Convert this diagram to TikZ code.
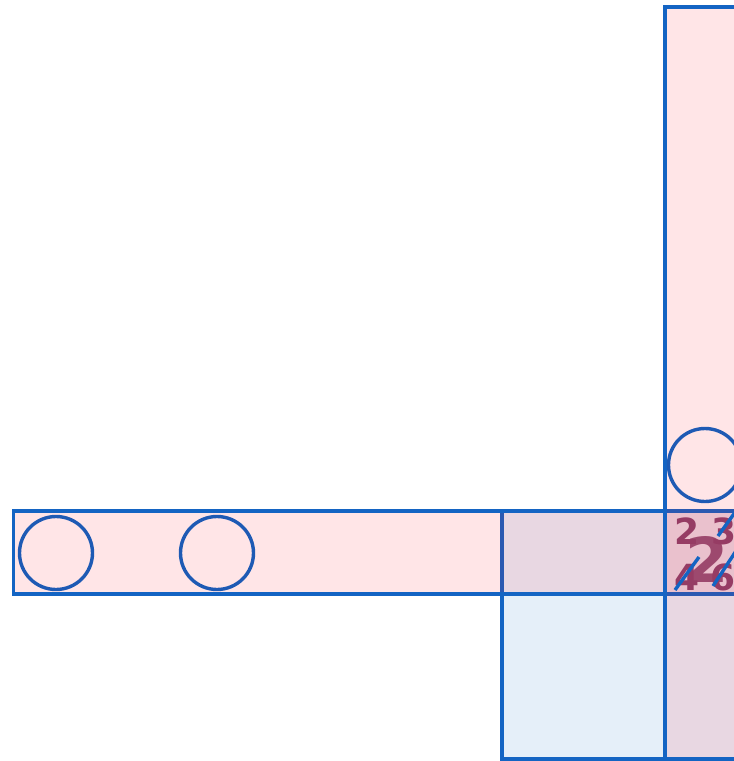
\documentclass[tikz,border=0pt]{standalone}
\usepackage{fontspec}
\setmainfont{DejaVu Sans}
\definecolor{edge}{RGB}{20,100,195}
\definecolor{ring}{RGB}{30,90,180}
\definecolor{pinkf}{RGB}{255,0,20}
\definecolor{bluef}{RGB}{0,100,200}
\definecolor{digit}{RGB}{150,60,100}
\begin{document}
\begin{tikzpicture}[x=1pt,y=-1pt,
  box/.style={draw=edge,line width=3.4pt},
  pinkbox/.style={box,fill=pinkf,fill opacity=0.1},
  bluebox/.style={box,fill=bluef,fill opacity=0.1},
  ringc/.style={circle,draw=ring,line width=3.4pt,minimum size=73pt,inner sep=0pt},
  dig/.style={text=digit,font=\bfseries\fontsize{36}{36}\selectfont,inner sep=0pt},
  bigdig/.style={text=digit,font=\bfseries\fontsize{62}{62}\selectfont,inner sep=0pt,text opacity=0.9},
  strike/.style={draw=edge,line width=3.4pt}]
\useasboundingbox (0,0) rectangle (734,761);
\begin{scope}
\clip (0,0) rectangle (734,761);
\draw[bluebox] (502,511) rectangle (800,759);
\draw[pinkbox] (13.5,511) rectangle (800,594);
\draw[pinkbox] (665,7) rectangle (800,759);
\node[ringc] (c1) at (56,553) {};
\node[ringc] (c2) at (217,553) {};
\node[ringc] (c3) at (705,465) {};
\node[dig] (d2) at (687,531) {2};
\node[dig] (d3) at (724,531) {3};
\node[dig] (d4) at (687,577) {4};
\node[dig] (d6) at (723,577) {6};
\node[bigdig] (big) at (707,559) {2};
\coordinate (s1a) at (675,590); \coordinate (s1b) at (699,557);
\coordinate (s2a) at (713,586); \coordinate (s2b) at (736,551);
\coordinate (s3a) at (718,536); \coordinate (s3b) at (736,511);
\draw[strike] (s1a) -- (s1b);
\draw[strike] (s2a) -- (s2b);
\draw[strike] (s3a) -- (s3b);
\end{scope}
\end{tikzpicture}
\end{document}
